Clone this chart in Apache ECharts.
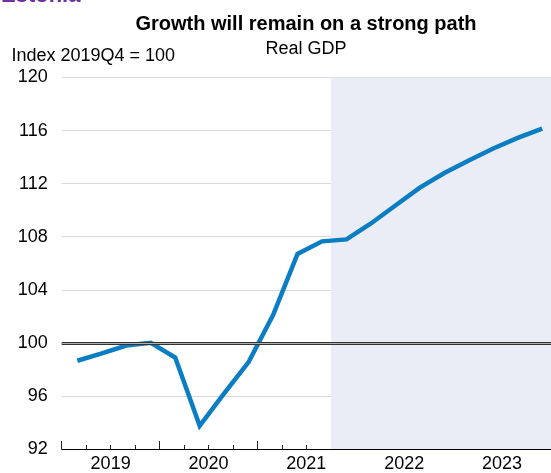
<!DOCTYPE html>
<html><head><meta charset="utf-8">
<script src="https://cdn.jsdelivr.net/npm/echarts@6/dist/echarts.min.js"></script>
<style>html,body{margin:0;padding:0;background:#fff}#c{width:551px;height:473px}</style>
</head><body><div id="c"></div>
<script>
// ---- data ----
const quarters = ['2019Q1','2019Q2','2019Q3','2019Q4','2020Q1','2020Q2','2020Q3','2020Q4',
  '2021Q1','2021Q2','2021Q3','2021Q4','2022Q1','2022Q2','2022Q3','2022Q4',
  '2023Q1','2023Q2','2023Q3','2023Q4'];
const gdp = [98.65, 99.2, 99.8, 100.0, 98.9, 93.75, 96.2, 98.55,
  102.1, 106.7, 107.65, 107.8, 109.0, 110.35, 111.7, 112.8,
  113.75, 114.65, 115.45, 116.15];
const yearLabels = ['2019','2020','2021','2022','2023'];
const yMin = 92, yMax = 120, yStep = 4;
const forecastStartQuarter = '2021Q4';
const referenceLevel = 100;
const titleText = 'Growth will remain on a strong path';
const subtitleText = 'Real GDP';
const unitText = 'Index 2019Q4 = 100';
const countryText = 'Estonia';

// ---- chart ----
const font = "'Liberation Sans', Arial, sans-serif";
const nQ = quarters.length;
const pointOffset = 0.64; // position of each observation within its quarter
const chart = echarts.init(document.getElementById('c'), null, {renderer: 'canvas'});
const fcIdx = quarters.indexOf(forecastStartQuarter);

chart.setOption({
  animation: false,
  backgroundColor: '#ffffff',
  textStyle: {fontFamily: font},
  grid: {left: 61.7, right: 0, top: 77.5, bottom: 22.5, containLabel: false},
  graphic: [
    {type: 'text', x: 1, y: 6.5, style: {text: countryText, fill: '#7030A0', font: 'bold 22px ' + font, textAlign: 'left', textVerticalAlign: 'bottom'}},
    {type: 'text', x: 306, y: 24, style: {text: titleText, fill: '#000', font: 'bold 20px ' + font, textAlign: 'center', textVerticalAlign: 'middle'}},
    {type: 'text', x: 306, y: 49.5, style: {text: subtitleText, fill: '#000', font: '18px ' + font, textAlign: 'center', textVerticalAlign: 'middle'}},
    {type: 'text', x: 11.5, y: 56.5, style: {text: unitText, fill: '#000', font: '18px ' + font, textAlign: 'left', textVerticalAlign: 'middle'}}
  ],
  xAxis: {
    type: 'value', min: 0, max: nQ, interval: 4,
    axisLine: {show: true, onZero: false, lineStyle: {color: '#000', width: 1}},
    axisTick: {show: true, inside: true, length: 8, lineStyle: {color: '#222', width: 1}},
    minorTick: {show: true, splitNumber: 4, length: 4, lineStyle: {color: '#222', width: 1}},
    axisLabel: {
      customValues: yearLabels.map((_, i) => i * 4 + 2),
      formatter: v => yearLabels[Math.round((v - 2) / 4)] || '',
      fontSize: 18, color: '#000', margin: 6, fontFamily: font
    },
    splitLine: {show: false}
  },
  yAxis: {
    type: 'value', min: yMin, max: yMax, interval: yStep,
    axisLine: {show: false}, axisTick: {show: false},
    axisLabel: {fontSize: 18, color: '#000', margin: 14, fontFamily: font},
    splitLine: {show: true, lineStyle: {color: '#d9d9d9', width: 1}}
  },
  series: [
    {
      type: 'line', data: [], z: -1, silent: true,
      markArea: {silent: true, itemStyle: {color: '#EAEDF6'},
        data: [[{xAxis: fcIdx}, {xAxis: nQ}]]}
    },
    {
      type: 'line', data: [], z: 1, silent: true,
      markLine: {silent: true, symbol: 'none', label: {show: false},
        data: [
          {yAxis: referenceLevel, lineStyle: {color: '#333', width: 3, type: 'solid'}},
          {yAxis: referenceLevel, lineStyle: {color: '#b0b0b0', width: 1, type: 'solid'}}
        ]}
    },
    {
      type: 'line', z: 3,
      data: quarters.map((q, i) => [i + pointOffset, gdp[i]]),
      showSymbol: false, symbol: 'none',
      lineStyle: {color: '#0A7DC3', width: 4.5, cap: 'butt', join: 'miter'}
    }
  ]
});
</script>
</body></html>
